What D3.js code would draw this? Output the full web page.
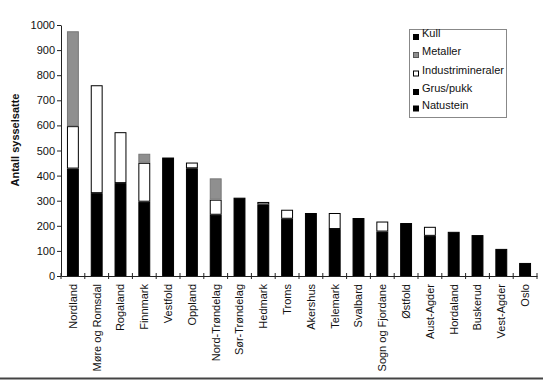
<!DOCTYPE html>
<html><head><meta charset="utf-8">
<script src="https://cdn.jsdelivr.net/npm/d3@7"></script>
<style>body{margin:0;background:#fff}svg{display:block;font-family:"Liberation Sans",Arial,sans-serif}</style>
</head><body><svg id="c" width="543" height="381"></svg>
<script>
const categories = ["Nordland","Møre og Romsdal","Rogaland","Finnmark","Vestfold","Oppland","Nord-Trøndelag","Sør-Trøndelag","Hedmark","Troms","Akershus","Telemark","Svalbard","Sogn og Fjordane","Østfold","Aust-Agder","Hordaland","Buskerud","Vest-Agder","Oslo"];
const natustein        = [0,0,0,0,0,0,0,0,0,0,0,0,0,0,0,0,0,0,0,0];
const grusPukk         = [428,330,370,296,472,429,244,312,285,228,251,187,0,177,211,160,176,163,108,52];
const industrimineraler= [169,430,203,155,0,23,60,0,10,36,0,64,0,40,0,36,0,0,0,0];
const metaller         = [378,0,0,36,0,0,85,0,0,0,0,0,0,0,0,0,0,0,0,0];
const kull             = [0,0,0,0,0,0,0,0,0,0,0,0,231,0,0,0,0,0,0,0];
const seriesNames = ["Kull","Metaller","Industrimineraler","Grus/pukk","Natustein"];
const yTicks = [0,100,200,300,400,500,600,700,800,900,1000];

const svg = d3.select("#c");
const x = d3.scaleBand().domain(categories).range([61,537]).paddingInner(0.5).paddingOuter(0.25);
const y = d3.scaleLinear().domain([0,1000]).range([276,25]);

const rows = categories.map((c,i)=>({cat:c,"Natustein":natustein[i],"Grus/pukk":grusPukk[i],"Industrimineraler":industrimineraler[i],"Metaller":metaller[i],"Kull":kull[i]}));
const stackOrder = ["Natustein","Grus/pukk","Industrimineraler","Metaller","Kull"];
const stacked = d3.stack().keys(stackOrder)(rows);
const fill = {"Kull":"#000","Metaller":"#8f8f8f","Industrimineraler":"#fff","Grus/pukk":"#000","Natustein":"#000"};
const stroke = {"Kull":"#000","Metaller":"#777","Industrimineraler":"#000","Grus/pukk":"#000","Natustein":"#000"};

// bars
stacked.forEach(s=>{
  svg.append("g").selectAll("rect").data(s.filter(d=>d[1]-d[0]>0)).join("rect")
    .attr("x",d=>x(d.data.cat)+0.5)
    .attr("y",d=>y(d[1])+0.5)
    .attr("width",x.bandwidth()-1)
    .attr("height",d=>Math.max(0,y(d[0])-y(d[1])-1))
    .attr("fill",fill[s.key]).attr("stroke",stroke[s.key]).attr("stroke-width",1);
});

// y axis
const yAxis = d3.axisLeft(y).tickValues(yTicks).tickFormat(d3.format("d")).tickSize(4).tickSizeOuter(0);
const gy = svg.append("g").attr("transform","translate(61,0)").call(yAxis);
gy.select(".domain").attr("stroke","#222");
gy.selectAll(".tick line").attr("stroke","#222");
gy.selectAll("text").attr("font-size",11).attr("fill","#111").attr("x",-6);

// x axis
const gx = svg.append("g").attr("transform","translate(0,276)").call(d3.axisBottom(x).tickSize(0).tickSizeOuter(0));
gx.select(".domain").attr("stroke","#222");
gx.selectAll(".tick text")
  .attr("font-size",11).attr("fill","#111")
  .attr("transform","rotate(-90)")
  .attr("text-anchor","end").attr("x",-8).attr("y",0).attr("dy","0.35em");
// between-category tick marks
const step = x.step();
const bounds = d3.range(categories.length+1).map(i=>61+i*step);
svg.append("g").selectAll("line").data(bounds).join("line")
  .attr("x1",d=>d).attr("x2",d=>d).attr("y1",273).attr("y2",279)
  .attr("stroke","#222");

// y title
svg.append("text").attr("transform","translate(19,140) rotate(-90)")
  .attr("text-anchor","middle").attr("font-size",11).attr("font-weight","bold").attr("fill","#111")
  .text("Antall sysselsatte");

// legend
const lg = svg.append("g");
lg.append("rect").attr("x",409.5).attr("y",29.5).attr("width",97).attr("height",88)
  .attr("fill","#fff").attr("stroke","#888");
const ly = [35,53,71.5,90,106.5];
seriesNames.forEach((n,i)=>{
  lg.append("rect").attr("x",413.5).attr("y",ly[i]-0.5).attr("width",5).attr("height",5)
    .attr("fill",fill[n]).attr("stroke",n==="Metaller"?"#555":"#000");
  lg.append("text").attr("x",422).attr("y",ly[i]).attr("dy","0.2em")
    .attr("font-size",11).attr("fill","#111").text(n);
});

// bottom frame line
svg.append("line").attr("x1",0).attr("x2",543).attr("y1",378.5).attr("y2",378.5)
  .attr("stroke","#444").attr("stroke-width",2);
</script></body></html>
